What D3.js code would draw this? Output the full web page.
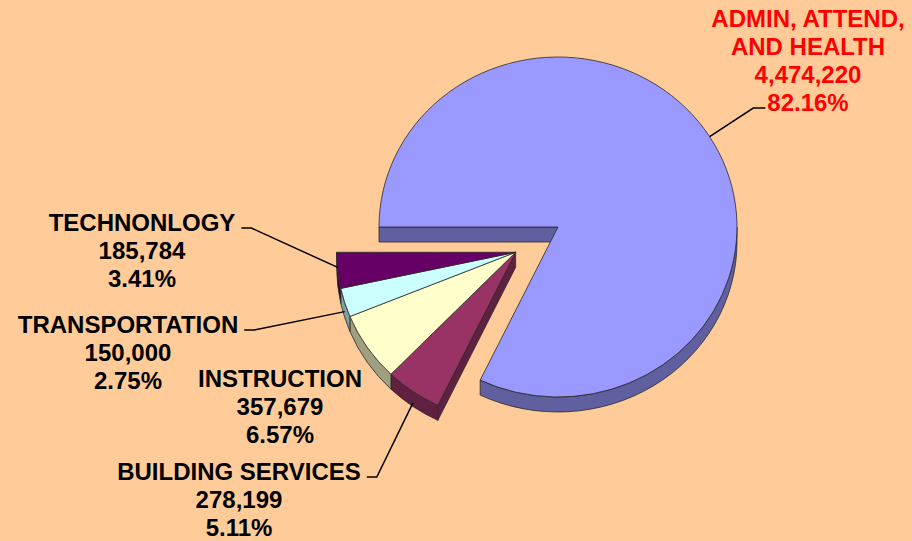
<!DOCTYPE html>
<html>
<head>
<meta charset="utf-8">
<script src="https://cdn.jsdelivr.net/npm/d3@7"></script>
<style>
  body { margin: 0; background: #ffcc99; }
  svg { display: block; }
  text { font-family: "Liberation Sans", Arial, sans-serif; font-weight: bold; }
</style>
</head>
<body>
<svg width="912" height="541"></svg>
<script>
// chart data
const categories = ["ADMIN, ATTEND, AND HEALTH", "BUILDING SERVICES", "INSTRUCTION", "TRANSPORTATION", "TECHNONLOGY"];
const values = [4474220, 278199, 357679, 150000, 185784];
const labelLines = [["ADMIN, ATTEND,", "AND HEALTH"], ["BUILDING SERVICES"], ["INSTRUCTION"], ["TRANSPORTATION"], ["TECHNONLOGY"]];
const colors = ["#9999ff", "#993366", "#ffffcc", "#ccffff", "#660066"];
// slice 0 stays, the rest are pulled out together
const groups = [0, 1, 1, 1, 1];

const svg = d3.select("svg");
const cx = 558, cy = 227, rx = 179, ry = 170, depth = 15, explodeDist = 50;

const pie = d3.pie().sort(null).startAngle(-Math.PI / 2).endAngle(1.5 * Math.PI);
const arcs = pie(values);
const total = d3.sum(values);
const fmtNum = d3.format(",");
const fmtPct = d3.format(".2%");

// center of each group (exploded along the bisector of the group)
const groupCenter = (g) => {
  const members = arcs.filter((d, i) => groups[i] === g);
  if (g === 0) return [cx, cy];
  const a = (members[0].startAngle + members[members.length - 1].endAngle) / 2;
  return [cx + explodeDist * Math.sin(a), cy - explodeDist * Math.cos(a) * ry / rx];
};
const pt = (c, a, dy = 0) => [c[0] + rx * Math.sin(a), c[1] - ry * Math.cos(a) + dy];

const sideColor = (c) => d3.color(c).darker(1.3).formatHex();
const stroke = "#2a2a2a";

// walls first
const walls = svg.append("g").attr("class", "walls");
arcs.forEach((d, i) => {
  const c = groupCenter(groups[i]);
  // outer wall, front half only
  const lo = Math.max(d.startAngle, Math.PI / 2);
  const hi = Math.min(d.endAngle, 1.5 * Math.PI);
  if (hi > lo) {
    const p0 = pt(c, lo), p1 = pt(c, hi);
    const large = hi - lo > Math.PI ? 1 : 0;
    walls.append("path")
      .attr("d", `M${p0}A${rx},${ry} 0 ${large} 1 ${p1}L${p1[0]},${p1[1] + depth}A${rx},${ry} 0 ${large} 0 ${p0[0]},${p0[1] + depth}Z`)
      .attr("fill", sideColor(colors[i]))
      .attr("stroke", stroke)
      .attr("stroke-width", 0.8);
  }
  // radial walls at group borders, if facing the viewer
  const n = arcs.length;
  const prevGroup = groups[(i - 1 + n) % n], nextGroup = groups[(i + 1) % n];
  const edges = [];
  if (prevGroup !== groups[i] && Math.cos(d.startAngle - Math.PI / 2) < 0) edges.push(d.startAngle);
  if (nextGroup !== groups[i] && Math.cos(d.endAngle + Math.PI / 2) < 0) edges.push(d.endAngle);
  edges.forEach((a) => {
    const p = pt(c, a);
    walls.append("path")
      .attr("d", `M${c}L${p}L${p[0]},${p[1] + depth}L${c[0]},${c[1] + depth}Z`)
      .attr("fill", sideColor(colors[i]))
      .attr("stroke", stroke)
      .attr("stroke-width", 0.8);
  });
});

// top faces
const arcGen = d3.arc().innerRadius(0).outerRadius(rx);
svg.append("g").attr("class", "tops")
  .selectAll("path")
  .data(arcs)
  .join("path")
  .attr("transform", (d, i) => {
    const c = groupCenter(groups[i]);
    return `translate(${c[0]},${c[1]}) scale(1,${ry / rx})`;
  })
  .attr("d", arcGen)
  .attr("fill", (d, i) => colors[i])
  .attr("stroke", stroke)
  .attr("stroke-width", 0.8)
  .attr("vector-effect", "non-scaling-stroke");

// labels
const labelLayout = [
  { x: 808, y: 27, fill: "#ff0000", leader: { line: 3, side: "left", drop: 0 } },
  { x: 239, y: 480, fill: "#000", leader: { line: 0, side: "right", drop: 11 } },
  { x: 280, y: 387, fill: "#000", leader: null },
  { x: 128, y: 333, fill: "#000", leader: { line: 0, side: "right", drop: 9 } },
  { x: 142, y: 231, fill: "#000", leader: { line: 0, side: "right", drop: -3 } },
];
const lineH = 28;
const labels = svg.append("g").attr("class", "labels");
arcs.forEach((d, i) => {
  const lay = labelLayout[i];
  const lines = labelLines[i].concat([fmtNum(values[i]), fmtPct(values[i] / total)]);
  const t = labels.append("text")
    .attr("text-anchor", "middle")
    .attr("font-size", "24px")
    .attr("fill", lay.fill);
  const spans = lines.map((s, k) =>
    t.append("tspan").attr("x", lay.x).attr("y", lay.y + k * lineH).text(s)
  );
  if (lay.leader) {
    const sp = spans[lay.leader.line].node();
    const w = sp.getComputedTextLength();
    const ly = lay.y + lay.leader.line * lineH - 3;
    const x0 = lay.leader.side === "left" ? lay.x - w / 2 - 2 : lay.x + w / 2 + 6;
    const x1 = lay.leader.side === "left" ? x0 - 12 : x0 + 10;
    const c = groupCenter(groups[i]);
    const p = pt(c, (d.startAngle + d.endAngle) / 2, lay.leader.drop);
    labels.append("path")
      .attr("d", `M${x0},${ly}L${x1},${ly}L${p}`)
      .attr("fill", "none")
      .attr("stroke", "#000")
      .attr("stroke-width", 1.5);
  }
});
</script>
</body>
</html>
